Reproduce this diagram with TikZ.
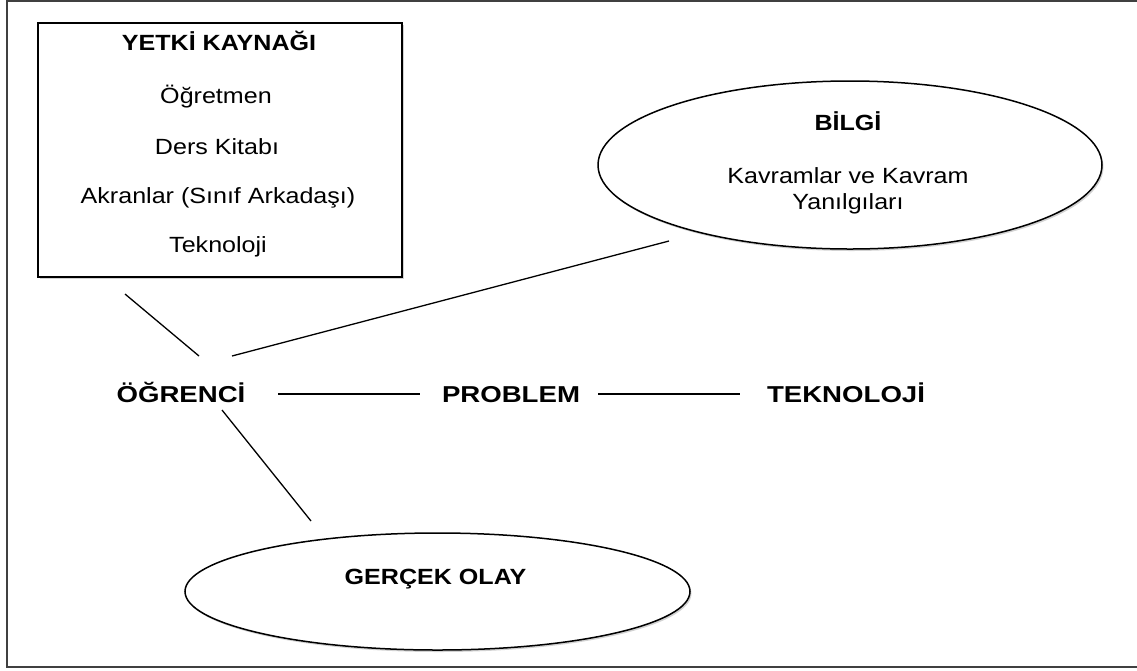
\documentclass[tikz,border=0pt]{standalone}
\usepackage{fontspec}
\setmainfont{Liberation Sans}[FakeStretch=1.14]
\newfontfamily\labfont{Liberation Sans}[FakeStretch=1.2]
\usetikzlibrary{shapes.geometric,shadows}

\begin{document}
\begin{tikzpicture}[x=1pt,y=-1pt,
  txt/.style={inner sep=0pt, text height=15.8pt, text depth=0pt,
              font=\fontsize{22}{26}\selectfont},
  hd/.style={txt, font=\fontsize{22}{26}\selectfont\bfseries},
  lab/.style={inner sep=0pt, text height=16.5pt, text depth=0pt,
              font=\labfont\fontsize{23}{27}\selectfont\bfseries},
  link/.style={line width=1.3pt, black},
  soft/.style={drop shadow={shadow xshift=1.5pt, shadow yshift=-2pt, opacity=0.35}},
  oval/.style={ellipse, draw, line width=1.5pt, fill=white, inner sep=0pt, soft},
  panel/.style={draw, line width=1.5pt, fill=white, inner sep=0pt, soft}
]
\useasboundingbox (0,0) rectangle (1137,670);
\fill[white] (0,0) rectangle (1137,670);

% frame (open on the right)
\draw[line width=2pt, black!75] (1140,1) -- (7,1) -- (7,667) -- (1140,667);

% authority sources panel
\node[panel, minimum width=364pt, minimum height=254pt] (kaynak) at (220,150) {};
\node[hd]  (kbaslik) at (219,43)  {YETKİ KAYNAĞI};
\node[txt] (k1) at (216,95.5) {Öğretmen};
\node[txt] (k2) at (217,147)  {Ders Kitabı};
\node[txt] (k3) at (218,196)  {Akranlar (Sınıf Arkadaşı)};
\node[txt] (k4) at (218,245)  {Teknoloji};

% knowledge ellipse
\node[oval, minimum width=504pt, minimum height=168pt] (bilgi) at (850,165) {};
\node[hd]  (bbaslik) at (848,123) {BİLGİ};
\node[txt] (b1) at (848,176) {Kavramlar ve Kavram};
\node[txt] (b2) at (848,202) {Yanılgıları};

% real event ellipse
\node[oval, minimum width=505pt, minimum height=117pt] (olay) at (437.5,591.5) {};
\node[hd] (obaslik) at (435.5,577) {GERÇEK OLAY};

% main row
\node[lab] (ogrenci)   at (181,394) {ÖĞRENCİ};
\node[lab] (problem)   at (511,394) {PROBLEM};
\node[lab] (teknoloji) at (846,394) {TEKNOLOJİ};

% connector end points
\coordinate (kaynakUc) at (125,294);
\coordinate (ogrSol)   at (199,356);
\coordinate (ogrSag)   at (232,356);
\coordinate (bilgiUc)  at (669,241);
\coordinate (ogrAlt)   at (222,410);
\coordinate (olayUc)   at (311,521);
\coordinate (ogrDogu)  at (278,394);
\coordinate (probBati) at (420,394);
\coordinate (probDogu) at (598,394);
\coordinate (tekBati)  at (740,394);

% connectors
\draw[link] (kaynakUc) -- (ogrSol);
\draw[link] (ogrSag) -- (bilgiUc);
\draw[link] (ogrAlt) -- (olayUc);
\draw[link] (ogrDogu) -- (probBati);
\draw[link] (probDogu) -- (tekBati);
\end{tikzpicture}
\end{document}
